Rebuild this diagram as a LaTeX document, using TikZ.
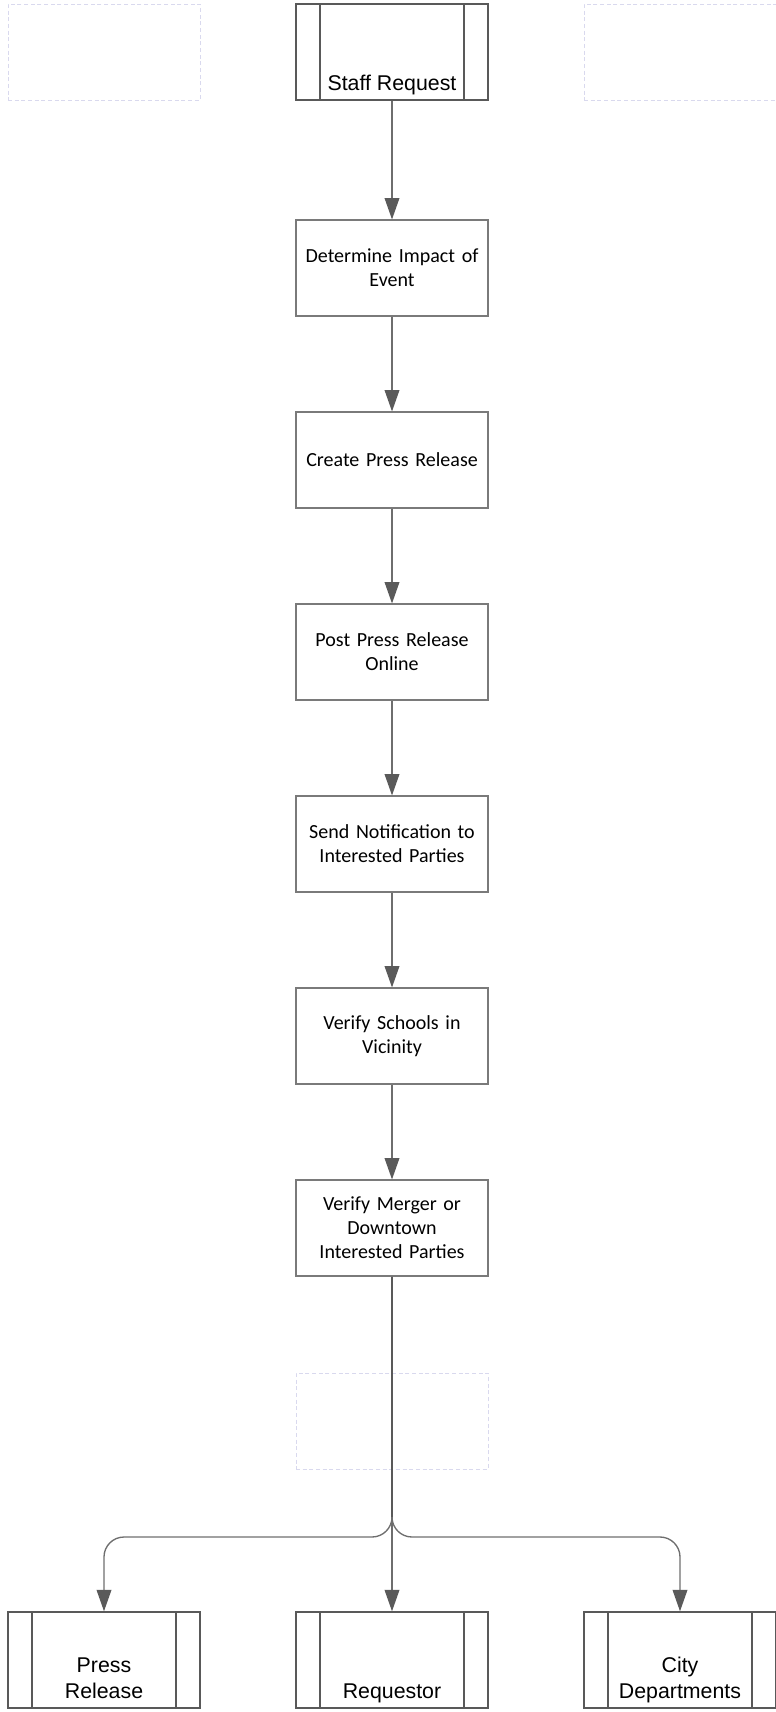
\documentclass[tikz,border=0pt]{standalone}
\usepackage{fontspec}
\setmainfont{Carlito}
\newfontfamily\arialfont{Liberation Sans}
\usetikzlibrary{arrows.meta,positioning,calc}

\definecolor{boxgray}{HTML}{595959}
\definecolor{procgray}{HTML}{7A7A7A}
\definecolor{linegray}{HTML}{6E6E6E}
\definecolor{tipgray}{HTML}{5A5A5A}
\definecolor{ghostblue}{HTML}{D9D9EE}

\tikzset{
  process/.style={draw=procgray, line width=0.8pt, minimum width=144pt,
    minimum height=72pt, inner sep=2pt, align=center, text width=138pt,
    font=\fontsize{15}{18}\selectfont},
  predef/.style={draw=boxgray, line width=1.1pt, minimum width=144pt,
    minimum height=72pt, inner sep=0pt,
    path picture={
      \draw[boxgray, line width=1.1pt]
        ([xshift=18pt]path picture bounding box.north west) --
        ([xshift=18pt]path picture bounding box.south west)
        ([xshift=-18pt]path picture bounding box.north east) --
        ([xshift=-18pt]path picture bounding box.south east);
    }},
  predeftext/.style={anchor=south, inner sep=2pt, align=center,
    font=\arialfont\fontsize{16}{19}\selectfont},
  ghost/.style={draw=ghostblue, line width=0.6pt, dash pattern=on 3pt off 2pt,
    minimum width=144pt, minimum height=72pt},
  flow/.style={draw=linegray, line width=1pt,
    -{Triangle[length=16pt, width=11pt, color=tipgray]}},
  trunk/.style={draw=boxgray, line width=1.4pt}
}

\begin{document}
\begin{tikzpicture}[x=0.75pt, y=-0.75pt]

  % page size
  \useasboundingbox (0,0) rectangle (775,1712);

  % ---- empty placeholder boxes ----
  \node[ghost] (ghosttl) at (104,52) {};
  \node[ghost] (ghosttr) at (680,52) {};
  \node[ghost] (ghostmid) at (392,1421) {};

  % ---- start ----
  \node[predef] (staff) at (392,52) {};
  \node[predeftext] (stafftxt) at (staff.south) {Staff Request\strut};

  % ---- process steps ----
  \node[process] (impact) at (392,268) {Determine Impact of\\Event};
  \node[process] (create) at (392,460) {Create Press Release};
  \node[process] (post) at (392,652) {Post Press Release\\Online};
  \node[process] (notify) at (392,844) {Send Notification to\\Interested Parties};
  \node[process] (schools) at (392,1036) {Verify Schools in\\Vicinity};
  \node[process] (merger) at (392,1228) {Verify Merger or\\Downtown\\Interested Parties};

  % ---- outputs ----
  \node[predef] (press) at (104,1660) {};
  \node[predeftext] (presstxt) at (press.south) {Press\\Release\strut};
  \node[predef] (req) at (392,1660) {};
  \node[predeftext] (reqtxt) at (req.south) {Requestor\strut};
  \node[predef] (city) at (680,1660) {};
  \node[predeftext] (citytxt) at (city.south) {City\\Departments\strut};

  % ---- connectors ----
  \draw[flow] (staff) -- (impact);
  \draw[flow] (impact) -- (create);
  \draw[flow] (create) -- (post);
  \draw[flow] (post) -- (notify);
  \draw[flow] (notify) -- (schools);
  \draw[flow] (schools) -- (merger);

  % split into three
  \coordinate (split) at (392,1537);
  \draw[flow, rounded corners=15pt] (merger.south) -- (split) -| (press.north);
  \draw[flow, rounded corners=15pt] (merger.south) -- (split) -| (city.north);
  \draw[flow] (merger.south) -- (req.north);
  \draw[trunk] (merger.south) -- ($(split)+(0,-20)$);

\end{tikzpicture}
\end{document}
